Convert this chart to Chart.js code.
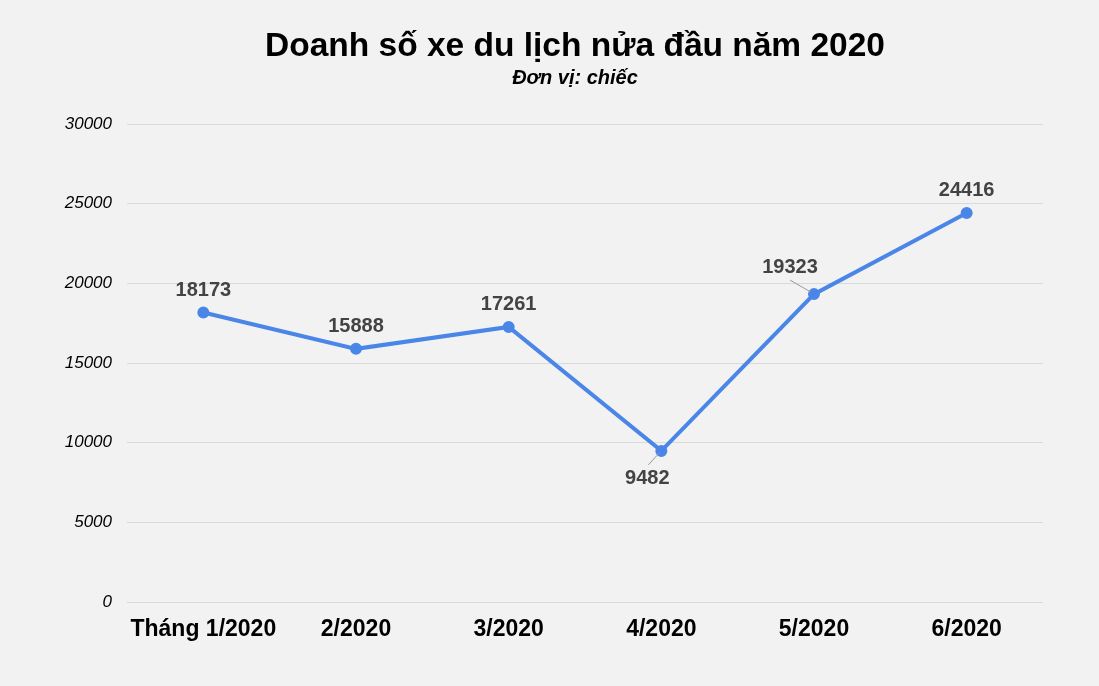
<!DOCTYPE html>
<html>
<head>
<meta charset="utf-8">
<script src="https://cdn.jsdelivr.net/npm/chart.js@4"></script>
<style>
  html, body { margin: 0; padding: 0; background: #f2f2f2; }
  #wrap { width: 1099px; height: 686px; }
</style>
</head>
<body>
<div id="wrap"><canvas id="salesChart"></canvas></div>
<script>
const months = ['Tháng 1/2020', '2/2020', '3/2020', '4/2020', '5/2020', '6/2020'];
const sales = [18173, 15888, 17261, 9482, 19323, 24416];
const yTicks = [0, 5000, 10000, 15000, 20000, 25000, 30000];
const titleText = 'Doanh số xe du lịch nửa đầu năm 2020';
const subtitleText = 'Đơn vị: chiếc';

const FONT = '"Liberation Sans", Arial, sans-serif';

// title block, centred a little right of the canvas middle like the original
const titlePlugin = {
  id: 'titleBlock',
  afterDraw(chart) {
    const ctx = chart.ctx;
    ctx.save();
    ctx.fillStyle = '#000';
    ctx.textAlign = 'center';
    ctx.textBaseline = 'middle';
    ctx.font = 'bold 33.5px ' + FONT;
    ctx.fillText(titleText, 575, 47);
    ctx.font = 'italic bold 20px ' + FONT;
    ctx.fillText(subtitleText, 575, 78);
    ctx.restore();
  }
};

// value labels, with a small leader line for the ones pushed off the point
const labelPlugin = {
  id: 'valueLabels',
  afterDatasetsDraw(chart) {
    const ctx = chart.ctx;
    const pts = chart.getDatasetMeta(0).data;
    const place = {3: {dx: -14, dy: 28, line: true}, 4: {dx: -24, dy: -27, line: true}};
    ctx.save();
    ctx.font = 'bold 20px ' + FONT;
    ctx.fillStyle = '#434343';
    ctx.textAlign = 'center';
    ctx.textBaseline = 'middle';
    pts.forEach((p, i) => {
      const o = place[i] || {dx: 0, dy: -22};
      if (o.line) {
        ctx.strokeStyle = '#999';
        ctx.lineWidth = 1;
        ctx.beginPath();
        if (o.dy > 0) {
          ctx.moveTo(p.x - 2, p.y + 2);
          ctx.lineTo(p.x + o.dx + 1, p.y + o.dy - 14);
        } else {
          ctx.moveTo(p.x - 3, p.y - 2);
          ctx.lineTo(p.x + o.dx, p.y + o.dy + 13);
        }
        ctx.stroke();
      }
      ctx.fillText(String(sales[i]), p.x + o.dx, p.y + o.dy);
    });
    ctx.restore();
  }
};

new Chart(document.getElementById('salesChart'), {
  type: 'line',
  data: {
    labels: months,
    datasets: [{
      data: sales,
      borderColor: '#4a86e8',
      backgroundColor: '#4a86e8',
      borderWidth: 4,
      pointRadius: 4,
      pointHoverRadius: 4,
      tension: 0
    }]
  },
  options: {
    responsive: true,
    maintainAspectRatio: false,
    animation: false,
    layout: { padding: { left: 0, right: 56, top: 124, bottom: 0 } },
    plugins: {
      legend: { display: false },
      tooltip: { enabled: false },
      title: { display: false }
    },
    scales: {
      x: {
        offset: true,
        grid: { display: false, drawTicks: false },
        border: { display: false },
        ticks: {
          color: '#000',
          padding: 14,
          maxRotation: 0,
          font: { family: FONT, size: 23, weight: 'bold' }
        },
        afterFit(scale) { scale.height = 84; }
      },
      y: {
        min: 0,
        max: 30000,
        afterBuildTicks(scale) { scale.ticks = yTicks.map(v => ({ value: v })); },
        grid: { color: '#d9d9d9', drawTicks: false },
        border: { display: false },
        ticks: {
          color: '#000',
          padding: 15,
          callback: v => String(v),
          font: { family: FONT, size: 17, style: 'italic' }
        },
        afterFit(scale) { scale.width = 127; }
      }
    }
  },
  plugins: [labelPlugin, titlePlugin]
});
</script>
</body>
</html>
